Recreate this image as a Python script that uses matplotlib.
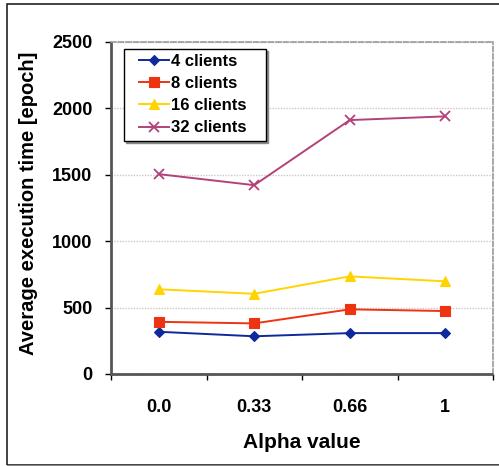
import matplotlib
matplotlib.use("Agg")
import matplotlib.pyplot as plt
from matplotlib.patches import Rectangle
from matplotlib.legend_handler import HandlerLine2D
import numpy as np

plt.rcParams['font.family'] = ['Liberation Sans', 'DejaVu Sans']

alpha_labels = ["0.0", "0.33", "0.66", "1"]
clients_4 = [318, 284, 308, 308]
clients_8 = [393, 381, 487, 474]
clients_16 = [638, 604, 735, 698]
clients_32 = [1505, 1422, 1912, 1940]

series = [
    ("4 clients", clients_4, "#0E2A9A", "D", 5.5),
    ("8 clients", clients_8, "#EE3311", "s", 6.5),
    ("16 clients", clients_16, "#FFD400", "^", 7.5),
    ("32 clients", clients_32, "#B3427A", "x", 7),
]

W, H = 499, 466
fig = plt.figure(figsize=(W / 100, H / 100), dpi=100)
fig.patch.set_facecolor("white")

# outer chart frame
fig.patches.append(Rectangle((7 / W, 1.5 / H), 1.2, (H - 5.5) / H, transform=fig.transFigure,
                             fill=False, edgecolor="#222222", linewidth=1.2, zorder=0))
fig.patches.append(Rectangle((7 / W, 0), 1.2, 1.2 / H, transform=fig.transFigure,
                             facecolor="#888888", edgecolor="none", zorder=0))

ax = fig.add_axes([111 / W, (H - 374) / H, 382 / W, 332 / H])
x = np.arange(len(alpha_labels))

for name, vals, color, marker, ms in series:
    ax.plot(x, vals, color=color, marker=marker, markersize=ms, linewidth=1.4,
            markeredgewidth=1.3 if marker == "x" else 0.8, markeredgecolor=color,
            markerfacecolor=color, label=name, zorder=3)

ax.set_xlim(-0.5, len(alpha_labels) - 0.5)
ax.set_ylim(0, 2500)
ax.set_yticks(np.arange(0, 2501, 500))
ax.set_xticks(x)
ax.set_xticklabels(alpha_labels)
ax.set_xticks(np.arange(-0.5, len(alpha_labels), 1.0), minor=True)

ax.tick_params(axis="x", which="major", length=0, pad=18, labelsize=13)
ax.tick_params(axis="x", which="minor", length=4, direction="out", color="black", width=1)
ax.tick_params(axis="y", which="major", length=4, direction="out", color="black", width=1,
               labelsize=13, pad=9.4)
for lbl in ax.get_xticklabels() + ax.get_yticklabels():
    lbl.set_fontweight("bold")

ax.yaxis.grid(True, color="#c8c8c8", linestyle=(0, (1, 1)), linewidth=1)
ax.set_axisbelow(True)

for side in ("top", "right"):
    ax.spines[side].set_color("#999999")
    ax.spines[side].set_linestyle((0, (3, 1.5)))
    ax.spines[side].set_linewidth(1.2)
for side in ("left", "bottom"):
    ax.spines[side].set_color("#555555")
    ax.spines[side].set_linestyle((0, (2, 1)))
    ax.spines[side].set_linewidth(2.0)

ax.set_xlabel("Alpha value", fontsize=15, fontweight="bold", labelpad=12)
ax.set_ylabel("Average execution time [epoch]", fontsize=14.5, fontweight="bold")
ax.yaxis.set_label_coords(-0.19, 0.513)

leg = ax.legend(loc="upper left", bbox_to_anchor=(13 / 382, 0.0, 142 / 382, 1 - 7 / 332),
                mode="expand", frameon=True, fancybox=False, edgecolor="black",
                prop={"weight": "bold", "size": 12},
                handlelength=2.4, handletextpad=0.12, labelspacing=0.43, borderpad=0.3,
                borderaxespad=0,
                handler_map={plt.Line2D: HandlerLine2D(xpad=0.6)},
                shadow={"ox": 1.5, "oy": -1.5, "color": "#8a8a8a", "alpha": 1.0})
leg.get_frame().set_linewidth(1.0)

fig.savefig("out.png", dpi=100)
